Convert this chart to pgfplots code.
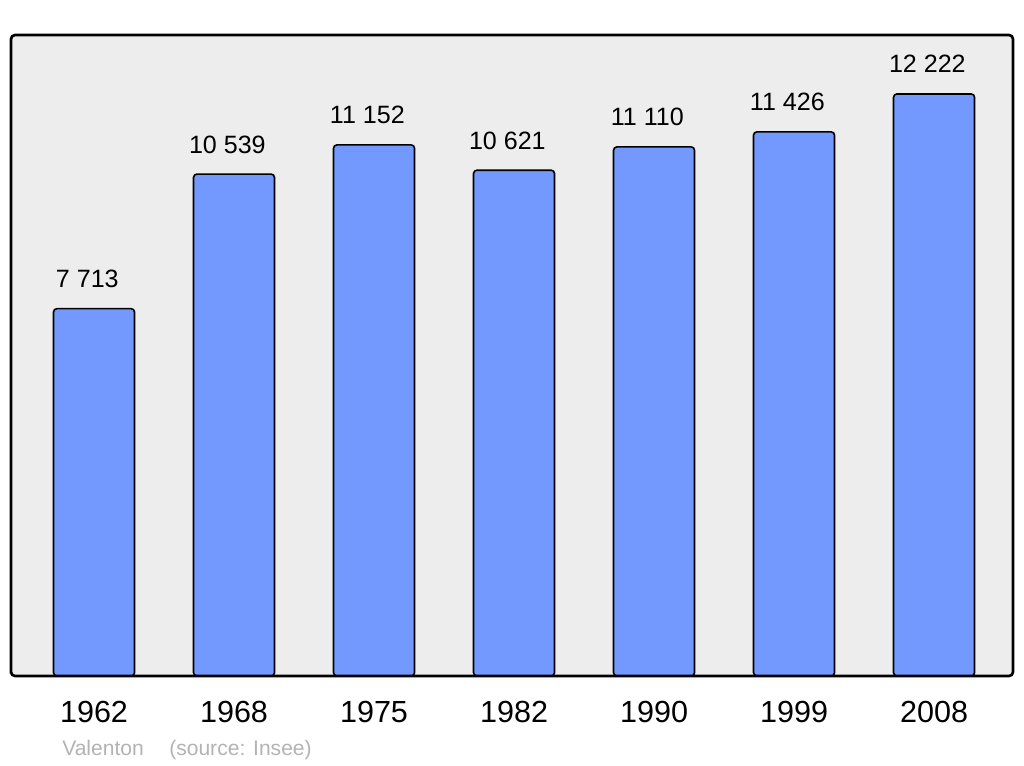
\documentclass[border=0pt]{standalone}
\usepackage{pgfplots}
\pgfplotsset{compat=1.18}
\usepackage{fontspec}
\setmainfont{Liberation Sans}
\definecolor{barblue}{HTML}{7399FF}
\definecolor{bggray}{HTML}{EDEDED}
\definecolor{srcgray}{HTML}{B3B3B3}
\begin{document}
\begin{tikzpicture}
\begin{axis}[
  at={(0,0)}, anchor=south west,
  scale only axis,
  width=751.5pt, height=480.75pt,
  xmin=-0.593, xmax=6.564,
  ymin=0, ymax=13460,
  axis on top=true,
  axis background/.style={fill=bggray, rounded corners=3pt},
  axis line style={line width=2pt, rounded corners=3pt},
  ytick=\empty,
  xtick={0,1,2,3,4,5,6},
  xticklabels={1962,1968,1975,1982,1990,1999,2008},
  major tick length=0pt,
  xticklabel style={font=\fontsize{22.9pt}{26pt}\selectfont, anchor=base, yshift=-34.5pt},
  ybar, bar width=60.75pt,
  point meta=explicit symbolic,
  nodes near coords={\pgfplotspointmeta},
  every node near coord/.append style={font=\fontsize{18.8pt}{22pt}\selectfont, anchor=base, xshift=-5pt, yshift=15.75pt, inner sep=0pt},
]
\addplot[fill=barblue, draw=black, line width=1.2pt, rounded corners=2.5pt] coordinates {
  (0,7713) [7 713]
  (1,10539) [10 539]
  (2,11152) [11 152]
  (3,10621) [10 621]
  (4,11110) [11 110]
  (5,11426) [11 426]
  (6,12222) [12 222]
};
\end{axis}
\node[anchor=base west, inner sep=0pt, text=srcgray, font=\fontsize{15.8pt}{18pt}\selectfont] at (38.25pt,-59.25pt) {Valenton};
\node[anchor=base west, inner sep=0pt, text=srcgray, font=\fontsize{15.8pt}{18pt}\selectfont] at (118.5pt,-59.25pt) {(source: Insee)};
\pgfresetboundingbox
\path (-8.25pt,-66.75pt) rectangle (759.75pt,507pt);
\end{tikzpicture}
\end{document}
